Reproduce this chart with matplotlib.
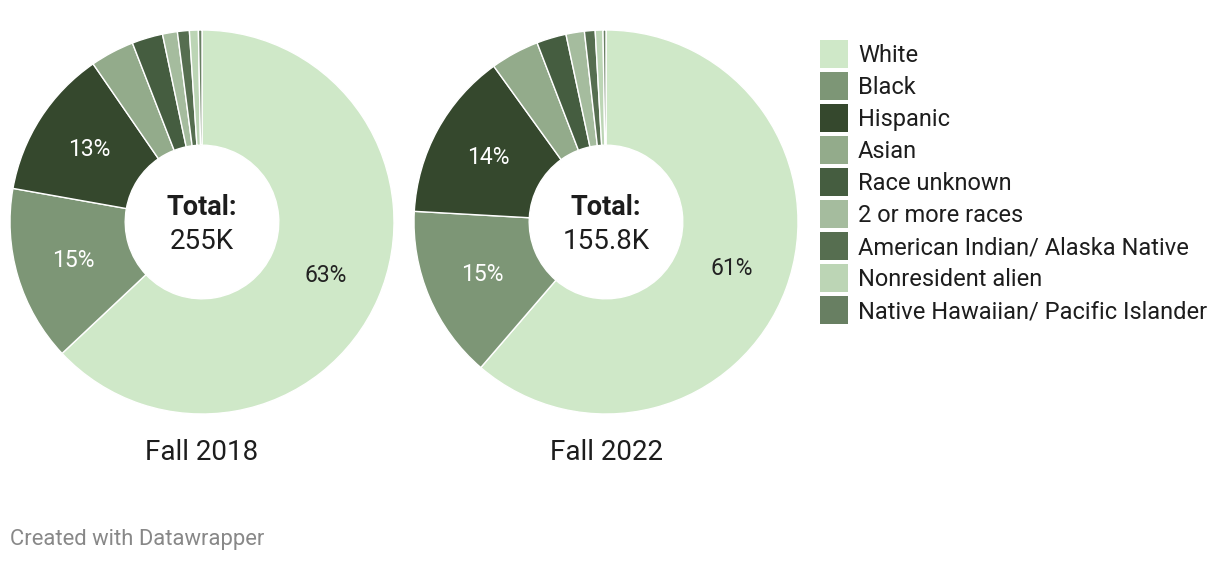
import matplotlib
matplotlib.use("Agg")
import numpy as np
import matplotlib.pyplot as plt
from matplotlib.patches import Rectangle

plt.rcParams['font.family'] = ['Roboto', 'DejaVu Sans']

# Dados
categorias = ['White', 'Black', 'Hispanic', 'Asian', 'Race unknown', '2 or more races',
              'American Indian/ Alaska Native', 'Nonresident alien',
              'Native Hawaiian/ Pacific Islander']
cores = ['#cfe8c8', '#7d9676', '#35482d', '#93ab8b', '#455d40', '#a5bc9e',
         '#566e50', '#bcd5b5', '#687f62']
valores_2018 = [63.0, 14.8, 12.6, 3.7, 2.6, 1.25, 1.0, 0.75, 0.3]
valores_2022 = [61.4, 14.6, 14.2, 4.1, 2.5, 1.55, 0.9, 0.65, 0.25]
totais = ['255K', '155.8K']
titulos = ['Fall 2018', 'Fall 2022']
cor_rotulo = ['#222222', 'white', 'white']  # cor do texto das 3 maiores fatias

W, H = 1220, 562
fig = plt.figure(figsize=(W / 100, H / 100), dpi=100)

centros = [202, 606]
raio_px = 192
cy = 222

for cx, valores, total, titulo in zip(centros, [valores_2018, valores_2022], totais, titulos):
    ax = fig.add_axes([(cx - raio_px) / W, (H - cy - raio_px) / H, 2 * raio_px / W, 2 * raio_px / H])
    ax.pie(valores, colors=cores, startangle=90, counterclock=False,
           radius=1, wedgeprops=dict(width=0.6, edgecolor='white', linewidth=1))
    ax.set_xlim(-1, 1)
    ax.set_ylim(-1, 1)
    ax.set_aspect('equal')
    ax.axis('off')

    # Percentuais nas 3 maiores fatias
    total_v = sum(valores)
    ang = 90.0
    for i, v in enumerate(valores):
        theta = ang - v / total_v * 360 / 2
        ang -= v / total_v * 360
        if i < 3:
            r = 0.70
            ax.text(r * np.cos(np.radians(theta)), r * np.sin(np.radians(theta)),
                    f'{round(v / total_v * 100):.0f}%', ha='center', va='center',
                    fontsize=16.5, color=cor_rotulo[i])

    ax.text(0, 0.075, 'Total:', ha='center', va='center', fontsize=19.5,
            fontweight='bold', color='#1d1d1d')
    ax.text(0, -0.10, total, ha='center', va='center', fontsize=20, color='#1d1d1d')
    fig.text(cx / W, 1 - 453 / H, titulo, ha='center', va='center', fontsize=20, color='#1d1d1d')

# Legenda manual
for i, (cat, cor) in enumerate(zip(categorias, cores)):
    y = 54 + i * 32
    fig.add_artist(Rectangle((820 / W, 1 - (y + 14) / H), 28 / W, 28 / H,
                             transform=fig.transFigure, facecolor=cor, edgecolor='none'))
    fig.text(858 / W, 1 - (y + 8) / H, cat, ha='left', va='baseline', fontsize=17, color='#1d1d1d')

fig.text(10 / W, 1 - 540 / H, 'Created with Datawrapper', ha='left', va='center',
         fontsize=15.8, color='#888888')

fig.savefig('out.png', dpi=100, facecolor='white')
